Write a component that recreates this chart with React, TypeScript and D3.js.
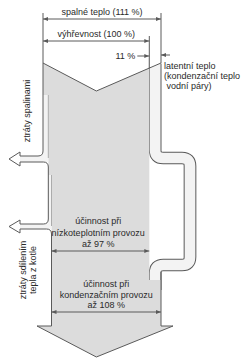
import React from "react";
import * as d3 from "d3";

// ---- data ----
const heatLabels = ["spalné teplo", "výhřevnost"];
const heatValues = [111, 100];
const latentValue = 11;
const latentLabel = ["latentní teplo", "(kondenzační teplo", " vodní páry)"];
const lossLabels = [["ztráty spalinami"], ["ztráty sdílením", "tepla z kotle"]];
const lossValues = [5, 3]; // schematic widths in %
const effLabels = [
  ["účinnost při", "nízkoteplotním provozu"],
  ["účinnost při", "kondenzačním provozu"],
];
const effValues = [97, 108];

const W = 242;
const H = 358;
const FONT = "'Liberation Sans', Arial, sans-serif";
const LINE = "#5a5a5a";
const FILL = "#dcdcdc";
const PIPE = "#f3f3f3";
const TXT = "#2a2a2a";

export default function App() {
  const x = d3.scaleLinear().domain([0, heatValues[0]]).range([43, 161]);
  const y = d3.scaleLinear().domain([0, 1]).range([0, 1]); // identity for vertical layout

  const xL = x(0);
  const x100 = x(heatValues[1]);
  const x111 = x(heatValues[0]);
  const xLoss1 = x(lossValues[0]);
  const xLoss2 = x(lossValues[0] + lossValues[1]);
  const xMid = (xL + x100) / 2;

  const topY = y(63);
  const vY = y(91);
  const chevX = x(heatValues[1] / 2 + 0.2);
  const chevAt = (px: number) => topY + ((x111 - px) / (x111 - chevX)) * (vY - topY);
  const y150 = chevAt(x100);

  const mergeY = 280;
  const wingY = 326;
  const tipY = 357;

  // body polygon
  const body = d3.path();
  body.moveTo(xL, topY);
  body.lineTo(chevX, vY);
  body.lineTo(x100, y150);
  body.lineTo(x100, mergeY);
  body.lineTo(x111, mergeY);
  body.lineTo(x111, wingY);
  body.lineTo(x111 + 12, wingY);
  body.lineTo(chevX, tipY);
  body.lineTo(xL - 6, wingY);
  body.lineTo(xLoss2, wingY);
  body.lineTo(xLoss2, 175);
  body.lineTo(xLoss1, 175);
  body.lineTo(xLoss1, 95);
  body.lineTo(xL, 95);
  body.closePath();

  // latent channel centre line
  const cx = (x100 + x111) / 2;
  const cw = x111 - x100;
  const rx = 190;
  const r = 8;
  const ch = d3.path();
  ch.moveTo(cx, 58);
  ch.lineTo(cx, 158 - r);
  ch.quadraticCurveTo(cx, 158, cx + r, 158);
  ch.lineTo(rx - r, 158);
  ch.quadraticCurveTo(rx, 158, rx, 158 + r);
  ch.lineTo(rx, 265 - r);
  ch.quadraticCurveTo(rx, 265, rx - r, 265);
  ch.lineTo(cx + r, 265);
  ch.quadraticCurveTo(cx, 265, cx, 265 + r);
  ch.lineTo(cx, 290);

  // loss pipes
  const p1t = 156, p1b = 162, p2t = 224, p2b = 229;
  const ax = 20, tipX = 9;
  const strip1 = `M${xL},95 H${xLoss1} V${p1b} H${ax} V${p1t} H${xL - 5} Q${xL},${p1t} ${xL},${p1t - 5} Z`;
  const strip2 = `M${xLoss1},175 H${xLoss2} V${p2b} H${ax} V${p2t} H${xLoss1 - 5} Q${xLoss1},${p2t} ${xLoss1},${p2t - 5} Z`;
  const outer1 = `M${xL},13 V${p1t - 5} Q${xL},${p1t} ${xL - 5},${p1t} H${ax}`;
  const sep1 = `M${xLoss1},95 V${p1t + 2}`;
  const bottom1 = `M${ax},${p1b} H${xLoss1 - 5} Q${xLoss1},${p1b} ${xLoss1},${p1b + 5} V${p2t - 5} Q${xLoss1},${p2t} ${xLoss1 - 5},${p2t} H${ax}`;
  const sep2 = `M${xLoss2},175 V${p2t + 2}`;
  const bottom2 = `M${ax},${p2b} H${xLoss2 - 5} Q${xLoss2},${p2b} ${xLoss2},${p2b + 5} V${wingY}`;
  const head = (t: number, b: number, ext: number) => {
    const c = (t + b) / 2;
    return `M${ax},${t} V${t - ext} L${tipX},${c} L${ax},${b + ext} V${b}`;
  };

  const arrowHead = `M${xLoss2},${wingY} H${xL - 6} L${chevX},${tipY} L${x111 + 12},${wingY} H${x111}`;

  const txt = {
    fontFamily: FONT,
    fontSize: 9,
    fill: TXT,
  } as const;

  return (
    <svg width={W} height={H} style={{ position: "absolute", left: 0, top: 0, background: "#fff" }}>
      <defs>
        <marker id="ar" viewBox="0 0 6 6" refX="6" refY="3" markerWidth="5" markerHeight="5" orient="auto-start-reverse" markerUnits="userSpaceOnUse">
          <path d="M0,0.6 L6,3 L0,5.4 z" fill={LINE} />
        </marker>
      </defs>

      {/* latent heat channel */}
      <path d={ch.toString()} fill="none" stroke={LINE} strokeWidth={cw + 1} />
      <path d={ch.toString()} fill="none" stroke={PIPE} strokeWidth={cw - 1} />
      <path d={`M${x100 - 1},50 H${x111 + 2} V${topY} L${x100 - 1},${y150} Z`} fill="#fff" />

      {/* body */}
      <path d={body.toString()} fill={FILL} />
      <path d={`M${xL},${topY} L${chevX},${vY} L${x111},${topY}`} fill="none" stroke={LINE} strokeWidth={1} />
      <path d={arrowHead} fill="none" stroke={LINE} strokeWidth={1} />
      <line x1={x111} x2={x111} y1={mergeY - 8} y2={wingY} stroke={LINE} />

      {/* loss pipes */}
      <path d={strip1} fill={PIPE} />
      <path d={strip2} fill={PIPE} />
      <path d={head(p1t, p1b, 4)} fill="#fff" stroke={LINE} />
      <path d={head(p2t, p2b, 4)} fill="#fff" stroke={LINE} />
      <path d={outer1} fill="none" stroke={LINE} />
      <path d={sep1} fill="none" stroke="#9a9a9a" strokeWidth={0.8} />
      <path d={bottom1} fill="none" stroke={LINE} />
      <path d={sep2} fill="none" stroke="#9a9a9a" strokeWidth={0.8} />
      <path d={bottom2} fill="none" stroke={LINE} />

      {/* extension lines */}
      <line x1={x111} x2={x111} y1={13} y2={topY} stroke={LINE} />
      <line x1={x100} x2={x100} y1={36} y2={y150} stroke={LINE} />

      {/* dimension lines */}
      <line x1={xL} x2={x111} y1={19} y2={19} stroke={LINE} markerStart="url(#ar)" markerEnd="url(#ar)" />
      <text {...txt} x={(xL + x111) / 2} y={15} textAnchor="middle">{`${heatLabels[0]} (${heatValues[0]} %)`}</text>
      <line x1={xL} x2={x100} y1={41} y2={41} stroke={LINE} markerStart="url(#ar)" markerEnd="url(#ar)" />
      <text {...txt} x={(xL + x100) / 2} y={37} textAnchor="middle">{`${heatLabels[1]} (${heatValues[1]} %)`}</text>

      <line x1={x100 - 12} x2={x100} y1={56} y2={56} stroke={LINE} markerEnd="url(#ar)" />
      <text {...txt} x={x100 - 14} y={59} textAnchor="end">{`${latentValue} %`}</text>
      <line x1={x111 + 9} x2={x111} y1={55} y2={55} stroke={LINE} markerEnd="url(#ar)" />
      {latentLabel.map((s, i) => (
        <text key={i} {...txt} x={x111 + 3} y={69 + i * 10} style={{ whiteSpace: "pre" }}>{s}</text>
      ))}

      {/* efficiency */}
      {effLabels[0].map((s, i) => (
        <text key={i} {...txt} x={xMid + 2} y={224 + i * 11.5} textAnchor="middle">{s}</text>
      ))}
      <text {...txt} x={xMid + 2} y={247} textAnchor="middle">{`až ${effValues[0]} %`}</text>
      <line x1={xLoss2} x2={x(heatValues[1] - (100 - effValues[0]) + 3)} y1={251} y2={251} stroke={LINE} markerStart="url(#ar)" markerEnd="url(#ar)" />

      {effLabels[1].map((s, i) => (
        <text key={i} {...txt} x={(xLoss2 + x111) / 2} y={287 + i * 10.5} textAnchor="middle">{s}</text>
      ))}
      <text {...txt} x={(xLoss2 + x111) / 2} y={308} textAnchor="middle">{`až ${effValues[1]} %`}</text>
      <line x1={xLoss2} x2={x(effValues[1] + lossValues[0] + lossValues[1] - 5)} y1={312} y2={312} stroke={LINE} markerStart="url(#ar)" markerEnd="url(#ar)" />

      {/* loss labels */}
      <text {...txt} transform={`translate(30,111) rotate(-90)`} textAnchor="middle">{lossLabels[0][0]}</text>
      {lossLabels[1].map((s, i) => (
        <text key={i} {...txt} transform={`translate(${26 + i * 10},270) rotate(-90)`} textAnchor="middle">{s}</text>
      ))}
    </svg>
  );
}
